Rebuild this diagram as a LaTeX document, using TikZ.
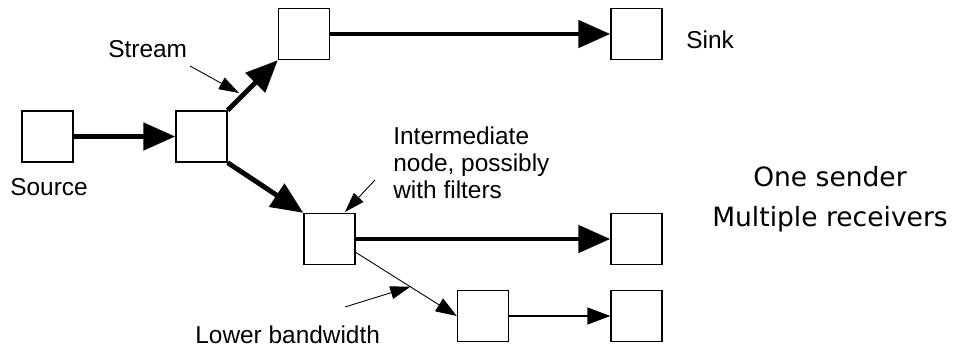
\documentclass[tikz,border=0pt]{standalone}
\usepackage{fontspec}
\setmainfont{Liberation Sans}
\newfontfamily\notefont{DejaVu Sans}
\usetikzlibrary{arrows.meta}
\begin{document}
\begin{tikzpicture}[x=0.02cm,y=0.02cm,
	box/.style={draw,line width=0.8pt,minimum size=1.02cm,inner sep=0pt},
	lbl/.style={inner sep=0pt,font=\fontsize{13.9}{15.4}\selectfont},
	heavy/.style={line width=2.8pt,-{Triangle[length=0.64cm,width=0.54cm]}},
	light/.style={line width=0.8pt,-{Triangle[length=0.46cm,width=0.34cm]}},
	hair/.style={line width=0.5pt,-{Triangle[length=0.42cm,width=0.3cm]}},
	pointer/.style={line width=0.5pt,-{Triangle[length=0.4cm,width=0.26cm]}}]
	\useasboundingbox (0,0) rectangle (957,346);
	\node[box] (src) at (47.5,209.5) {};
	\node[box] (relay) at (201.5,209.5) {};
	\node[box] (up) at (304,312) {};
	\node[box] (sink) at (636.5,312) {};
	\node[box] (mid) at (329.5,107) {};
	\node[box] (out1) at (636.5,107) {};
	\node[box] (low) at (483,30) {};
	\node[box] (out2) at (636.5,30) {};
	\draw[heavy] (src) -- (relay);
	\draw[heavy] (relay.north east) -- (up.south west);
	\draw[heavy] (relay.south east) -- (mid.north west);
	\draw[heavy] (up) -- (sink);
	\draw[heavy] (mid) -- (out1);
	\draw[hair] (mid.-27) -- coordinate[pos=0.54] (thin) (low.west);
	\draw[light] (low) -- (out2);
	\node[lbl,anchor=base west] (stream) at (108,289) {Stream};
	\node[lbl,anchor=base west] (source) at (10,151) {Source};
	\node[lbl,anchor=base west] (sinklbl) at (686,298) {Sink};
	\node[lbl,anchor=north west,align=left] (inter) at (393,220) {Intermediate\\node, possibly\\with filters};
	\node[lbl,anchor=base west] (lower) at (195,3) {Lower bandwidth};
	\node[inner sep=0pt,anchor=north,align=center,font=\notefont\fontsize{15.1}{22.7}\selectfont] (note) at (830,180) {One sender\\Multiple receivers};
	\coordinate (s1) at (190,280);
	\coordinate (s2) at (239,253);
	\coordinate (i1) at (375,166);
	\coordinate (i2) at (345,134);
	\coordinate (l1) at (345,39);
	\draw[pointer] (s1) -- (s2);
	\draw[pointer] (i1) -- (i2);
	\draw[pointer] (l1) -- (thin);
\end{tikzpicture}
\end{document}
